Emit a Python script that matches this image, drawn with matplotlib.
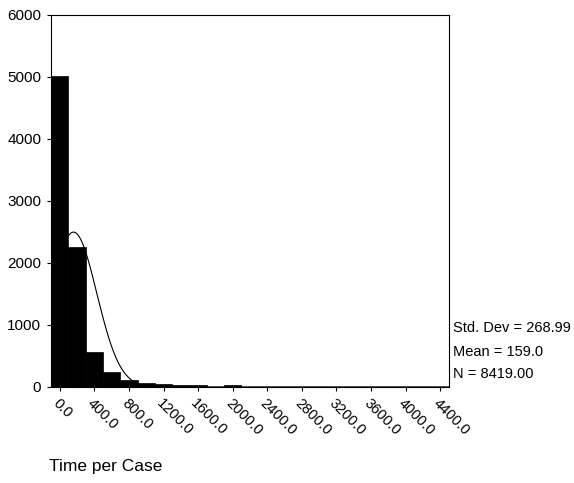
#!/usr/bin/env python3

import numpy as np
import matplotlib
matplotlib.use("Agg")
import matplotlib.pyplot as plt

plt.rcParams['font.family'] = ['Liberation Sans', 'DejaVu Sans']

# Histogram data (bin midpoints, bin width 200)
bin_centers = [0, 200, 400, 600, 800, 1000, 1200, 1400, 1600, 1800, 2000, 2200, 2400]
counts = [5020, 2260, 560, 240, 115, 70, 42, 38, 25, 6, 25, 4, 3]
bin_width = 200

# Stats shown on the right
std_dev = 268.99
mean = 159.0
n_cases = 8419

x_ticks = [0, 400, 800, 1200, 1600, 2000, 2400, 2800, 3200, 3600, 4000, 4400]
y_ticks = [0, 1000, 2000, 3000, 4000, 5000, 6000]

fig = plt.figure(figsize=(5.74, 4.83), dpi=100)
ax = fig.add_axes([0.089, 0.199, 0.693, 0.770])

ax.bar(bin_centers, counts, width=bin_width, color='black', edgecolor='black',
       linewidth=0.5, zorder=2)

# normal curve from the summary stats
xs = np.linspace(-100, 4500, 800)
ys = n_cases * bin_width / (std_dev * np.sqrt(2 * np.pi)) * np.exp(-0.5 * ((xs - mean) / std_dev) ** 2)
ax.plot(xs, ys, color='black', linewidth=0.8, zorder=3)

ax.set_xlim(-100, 4500)
ax.set_ylim(0, 6000)
ax.set_yticks(y_ticks)
ax.set_yticklabels([str(v) for v in y_ticks], fontsize=11)
ax.set_xticks(x_ticks)
ax.set_xticklabels(["%.1f" % v for v in x_ticks], fontsize=10.5, rotation=-45,
                   ha='left', va='top', rotation_mode='anchor')
ax.tick_params(direction='out', length=3, width=0.8, pad=4)
for s in ax.spines.values():
    s.set_linewidth(0.8)

# stats box text
fig.text(0.789, 0.321, "Std. Dev = %.2f" % std_dev, fontsize=10.5, va='center')
fig.text(0.789, 0.272, "Mean = %.1f" % mean, fontsize=10.5, va='center')
fig.text(0.789, 0.226, "N = %.2f" % n_cases, fontsize=10.5, va='center')

fig.text(0.085, 0.035, "Time per Case", fontsize=12.5, va='center')

fig.savefig('out.png', dpi=100)
